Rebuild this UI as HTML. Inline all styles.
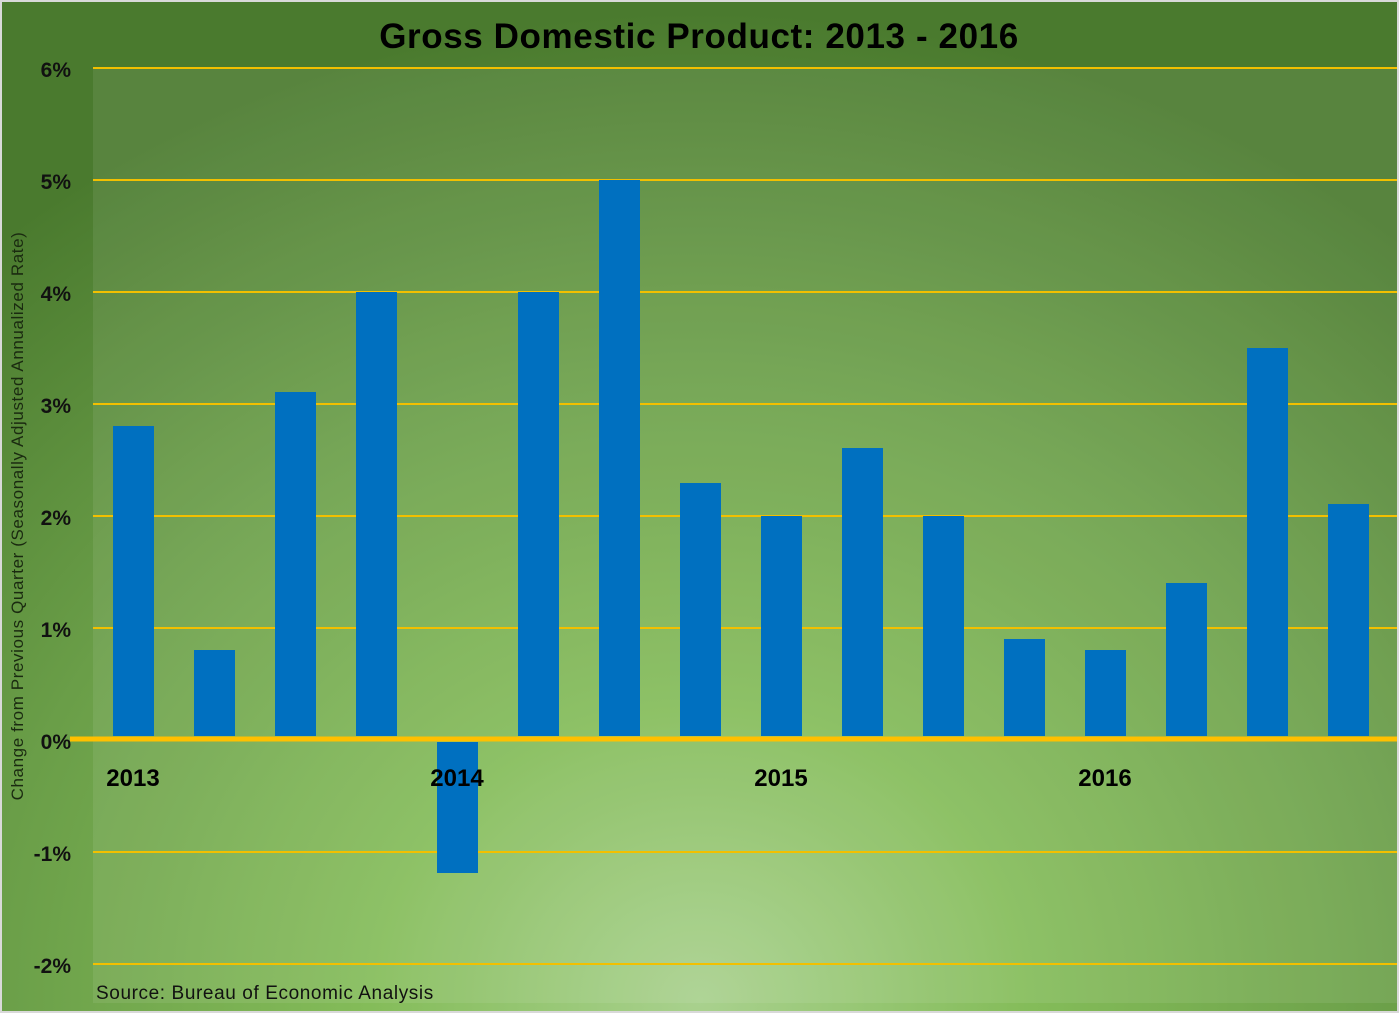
<!DOCTYPE html>
<html><head><style>
html,body{margin:0;padding:0;background:#d9d9d9;}
</style></head><body>
<svg width="1399" height="1013" xmlns="http://www.w3.org/2000/svg" style="display:block">
<defs>
<radialGradient id="bg" cx="700" cy="1000" r="1100" gradientUnits="userSpaceOnUse" gradientTransform="translate(700 1000) scale(1 0.9) translate(-700 -1000)">
<stop offset="0" stop-color="#a9d18e"/>
<stop offset="0.3" stop-color="#84bc59"/>
<stop offset="0.65" stop-color="#6a9e48"/>
<stop offset="1" stop-color="#4a7a2e"/>
</radialGradient>
</defs>
<rect x="2" y="2" width="1395" height="1009" fill="url(#bg)"/>
<rect x="93" y="68" width="1304" height="935" fill="#ffffff" opacity="0.08"/>
<g font-family="Liberation Sans, sans-serif">
<text x="699" y="48" text-anchor="middle" font-size="35" font-weight="bold" fill="#000" letter-spacing="0.6">Gross Domestic Product:  2013 - 2016</text>
<g stroke="#f2c000" stroke-width="2">
<line x1="93" x2="1397" y1="68" y2="68"/>
<line x1="93" x2="1397" y1="180" y2="180"/>
<line x1="93" x2="1397" y1="292" y2="292"/>
<line x1="93" x2="1397" y1="404" y2="404"/>
<line x1="93" x2="1397" y1="516" y2="516"/>
<line x1="93" x2="1397" y1="628" y2="628"/>
<line x1="93" x2="1397" y1="852" y2="852"/>
<line x1="93" x2="1397" y1="964" y2="964"/>
</g>
<g fill="#0070c0">
<rect x="113" y="426" width="41" height="310"/>
<rect x="194" y="650" width="41" height="86"/>
<rect x="275" y="392" width="41" height="344"/>
<rect x="356" y="292" width="41" height="444"/>
<rect x="437" y="742" width="41" height="131"/>
<rect x="518" y="292" width="41" height="444"/>
<rect x="599" y="180" width="41" height="556"/>
<rect x="680" y="483" width="41" height="253"/>
<rect x="761" y="516" width="41" height="220"/>
<rect x="842" y="448" width="41" height="288"/>
<rect x="923" y="516" width="41" height="220"/>
<rect x="1004" y="639" width="41" height="97"/>
<rect x="1085" y="650" width="41" height="86"/>
<rect x="1166" y="583" width="41" height="153"/>
<rect x="1247" y="348" width="41" height="388"/>
<rect x="1328" y="504" width="41" height="232"/>
</g>
<line x1="70" x2="1397" y1="739" y2="739" stroke="#ffc000" stroke-width="5"/>
<g font-size="21" font-weight="bold" fill="#111" text-anchor="end">
<text x="71" y="77">6%</text>
<text x="71" y="189">5%</text>
<text x="71" y="301">4%</text>
<text x="71" y="413">3%</text>
<text x="71" y="525">2%</text>
<text x="71" y="637">1%</text>
<text x="71" y="749">0%</text>
<text x="71" y="861">-1%</text>
<text x="71" y="973">-2%</text>
</g>
<g font-size="24" font-weight="bold" fill="#000" text-anchor="middle">
<text x="133" y="786">2013</text>
<text x="457" y="786">2014</text>
<text x="781" y="786">2015</text>
<text x="1105" y="786">2016</text>
</g>
<text transform="translate(23 516) rotate(-90)" text-anchor="middle" font-size="17" fill="#1a2a10" letter-spacing="0.6">Change from Previous Quarter (Seasonally Adjusted Annualized Rate)</text>
<text x="96" y="999" font-size="19" fill="#111" letter-spacing="0.6">Source: Bureau of Economic Analysis</text>
</g>
</svg>
</body></html>
